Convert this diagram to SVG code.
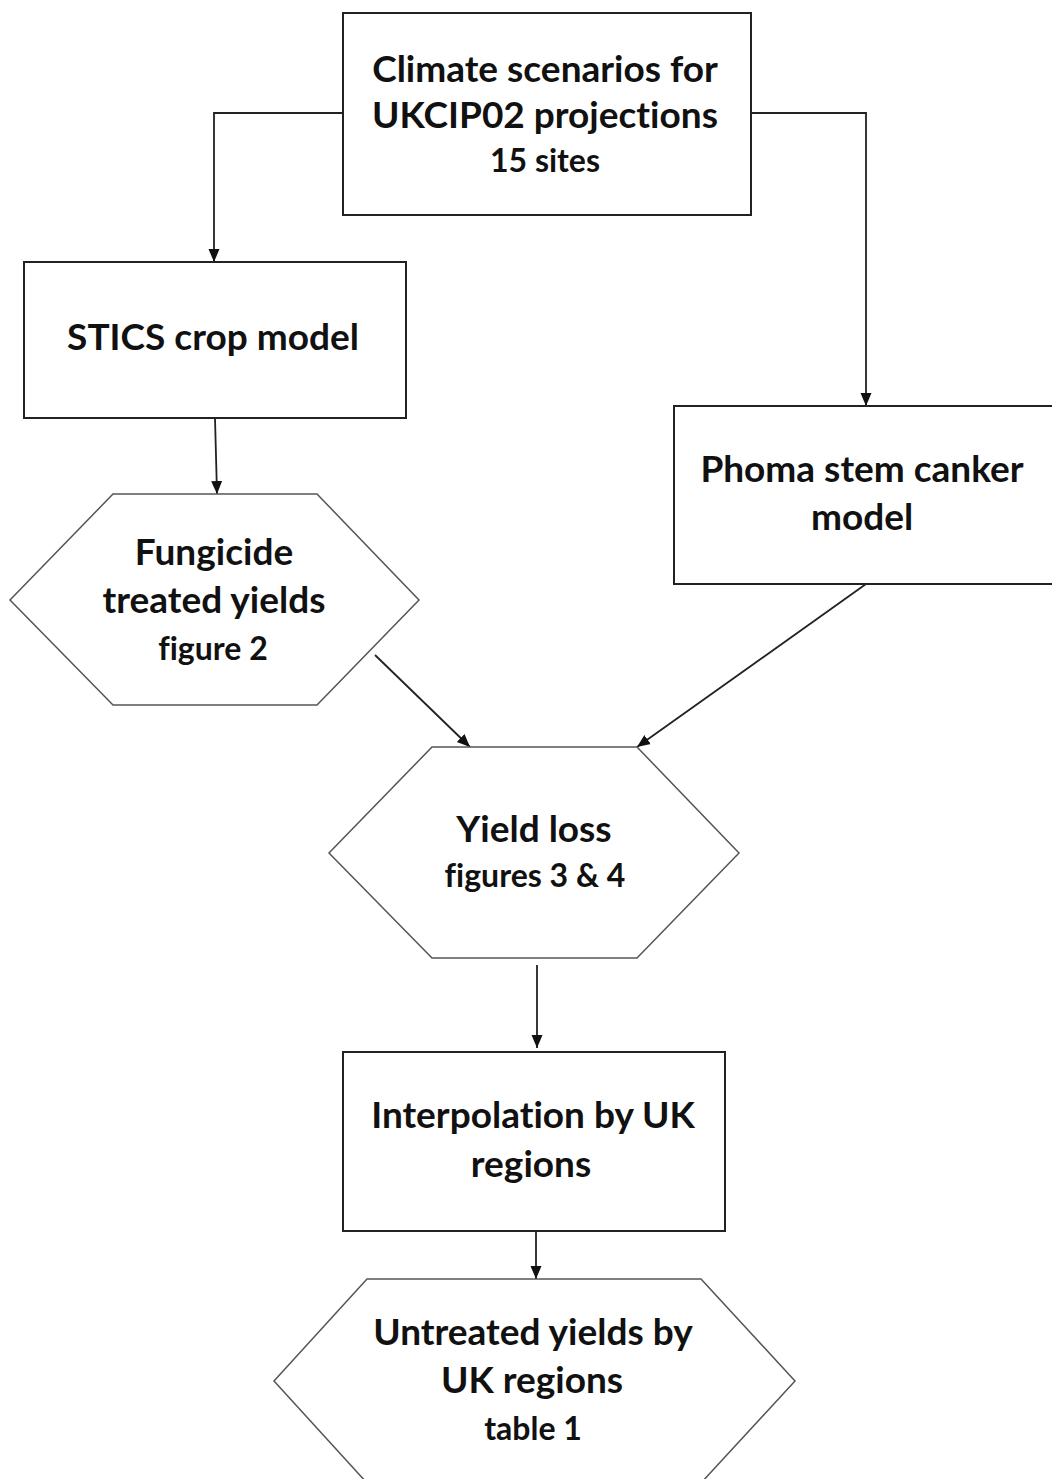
<svg xmlns="http://www.w3.org/2000/svg" width="1052" height="1479" viewBox="0 0 1052 1479">
  <style>
    .box { fill: #ffffff; stroke: #222222; stroke-width: 2; }
    .hex { fill: #ffffff; stroke: #555555; stroke-width: 1.5; }
    .edge { fill: none; stroke: #222222; stroke-width: 1.8; }
    .t { font-family: Lato, "Liberation Sans", sans-serif; font-weight: 700; fill: #111111; text-anchor: middle; font-variant-ligatures: none; }
    .big { font-size: 37px; }
    .small { font-size: 32px; }
  </style>
  <defs>
    <marker id="arrow" markerUnits="userSpaceOnUse" markerWidth="14" markerHeight="14" viewBox="0 0 14 14" refX="13" refY="7" orient="auto">
      <path d="M0,1.5 L13,7 L0,12.5 Z" fill="#111111"/>
    </marker>
  </defs>
  <rect width="1052" height="1479" fill="#ffffff"/>

  <!-- connectors -->
  <g id="connectors">
    <polyline class="edge" points="343,113 214,113 214,262" marker-end="url(#arrow)"/>
    <polyline class="edge" points="751,113 866,113 866,406" marker-end="url(#arrow)"/>
    <line class="edge" x1="215" y1="418" x2="217" y2="494" marker-end="url(#arrow)"/>
    <line class="edge" x1="375" y1="655" x2="470" y2="747" marker-end="url(#arrow)"/>
    <line class="edge" x1="866" y1="584" x2="637" y2="747" marker-end="url(#arrow)"/>
    <line class="edge" x1="537" y1="965" x2="537" y2="1048" marker-end="url(#arrow)"/>
    <line class="edge" x1="536" y1="1231" x2="536" y2="1279" marker-end="url(#arrow)"/>
  </g>

  <!-- input climate data -->
  <g id="climate">
    <rect class="box" x="343" y="13" width="408" height="202"/>
    <text class="t big" x="545" y="82">Climate scenarios for</text>
    <text class="t big" x="545" y="128">UKCIP02 projections</text>
    <text class="t small" x="545" y="172">15 sites</text>
  </g>

  <g id="stics">
    <rect class="box" x="24" y="262" width="382" height="156"/>
    <text class="t big" x="213" y="350">STICS crop model</text>
  </g>

  <g id="phoma">
    <rect class="box" x="674" y="406" width="388" height="178"/>
    <text class="t big" x="862" y="482">Phoma stem canker</text>
    <text class="t big" x="862" y="530">model</text>
  </g>

  <g id="fungicide">
    <polygon class="hex" points="113,494 317,494 419,600 317,705 113,705 10,600"/>
    <text class="t big" x="214" y="565">Fungicide</text>
    <text class="t big" x="214" y="613">treated yields</text>
    <text class="t small" x="213" y="660">figure 2</text>
  </g>

  <g id="yieldloss">
    <polygon class="hex" points="432,747 637,747 739,853 637,958 432,958 329,853"/>
    <text class="t big" x="534" y="842">Yield loss</text>
    <text class="t small" x="535" y="887">figures 3 &amp; 4</text>
  </g>

  <g id="interpolation">
    <rect class="box" x="343" y="1052" width="382" height="179"/>
    <text class="t big" x="533" y="1128">Interpolation by UK</text>
    <text class="t big" x="531" y="1177">regions</text>
  </g>

  <g id="untreated">
    <polygon class="hex" points="367,1279 701,1279 795,1381 701,1483 367,1483 274,1381"/>
    <text class="t big" x="533" y="1345">Untreated yields by</text>
    <text class="t big" x="532" y="1393">UK regions</text>
    <text class="t small" x="533" y="1440">table 1</text>
  </g>
</svg>
